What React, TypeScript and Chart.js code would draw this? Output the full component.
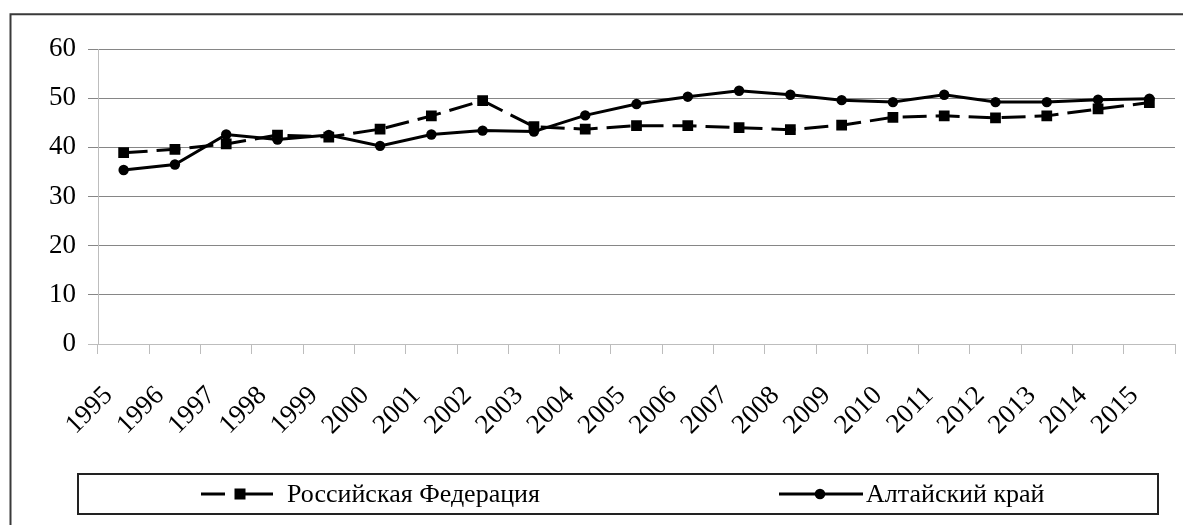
import React, { useEffect, useRef } from "react";
import { Chart, registerables } from "chart.js";

Chart.register(...registerables);

const years = [
  "1995", "1996", "1997", "1998", "1999", "2000", "2001", "2002", "2003", "2004",
  "2005", "2006", "2007", "2008", "2009", "2010", "2011", "2012", "2013", "2014", "2015",
];
const russiaValues = [
  38.9, 39.6, 40.7, 42.5, 42.1, 43.7, 46.4, 49.5, 44.2, 43.7,
  44.4, 44.4, 44.0, 43.6, 44.5, 46.1, 46.4, 46.0, 46.4, 47.8, 49.1,
];
const altaiValues = [
  35.4, 36.5, 42.6, 41.6, 42.5, 40.3, 42.6, 43.4, 43.2, 46.5,
  48.8, 50.3, 51.5, 50.7, 49.6, 49.2, 50.7, 49.2, 49.2, 49.7, 49.9,
];
const seriesNames = ["Российская Федерация", "Алтайский край"];
const yMin = 0;
const yMax = 60;
const yStep = 10;

const FONT = "'Liberation Serif', 'Times New Roman', serif";

const framePlugin = {
  id: "frameAndLegend",
  beforeDraw(chart: any) {
    const ctx = chart.ctx;
    ctx.save();
    ctx.fillStyle = "#ffffff";
    ctx.fillRect(0, 0, chart.width, chart.height);
    ctx.strokeStyle = "#3a3a3a";
    ctx.lineWidth = 2;
    ctx.beginPath();
    ctx.moveTo(10.5, chart.height + 2);
    ctx.lineTo(10.5, 14.3);
    ctx.lineTo(chart.width + 2, 14.3);
    ctx.stroke();
    ctx.restore();
  },
  afterDraw(chart: any) {
    const ctx = chart.ctx;
    ctx.save();
    // legend box
    ctx.strokeStyle = "#222222";
    ctx.lineWidth = 2;
    ctx.strokeRect(78, 474, 1080, 40);
    const cy = 494;
    ctx.font = `26px ${FONT}`;
    ctx.fillStyle = "#000";
    ctx.textBaseline = "middle";
    ctx.textAlign = "left";

    // item 1: dashed line with square
    ctx.strokeStyle = "#000";
    ctx.lineWidth = 3;
    ctx.beginPath();
    ctx.moveTo(201, cy);
    ctx.lineTo(225, cy);
    ctx.moveTo(240, cy);
    ctx.lineTo(273, cy);
    ctx.stroke();
    ctx.fillRect(234.5, cy - 5.5, 11, 11);
    ctx.fillText(chart.data.datasets[0].label, 287, cy + 1);

    // item 2: solid line with circle
    ctx.beginPath();
    ctx.moveTo(779, cy);
    ctx.lineTo(863, cy);
    ctx.stroke();
    ctx.beginPath();
    ctx.arc(820, cy, 5.3, 0, Math.PI * 2);
    ctx.fill();
    ctx.fillText(chart.data.datasets[1].label, 866, cy + 1);
    ctx.restore();
  },
};

export default function App() {
  const canvasRef = useRef<HTMLCanvasElement | null>(null);

  useEffect(() => {
    const canvas = canvasRef.current;
    if (!canvas) return;
    const chart = new Chart(canvas, {
      type: "line",
      data: {
        labels: years,
        datasets: [
          {
            label: seriesNames[0],
            data: russiaValues,
            borderColor: "#000",
            backgroundColor: "#000",
            borderWidth: 3,
            borderDash: [24, 9],
            pointStyle: "rect",
            pointRadius: 7.6,
            pointBorderWidth: 0,
            pointBackgroundColor: "#000",
            tension: 0,
          },
          {
            label: seriesNames[1],
            data: altaiValues,
            borderColor: "#000",
            backgroundColor: "#000",
            borderWidth: 3,
            pointStyle: "circle",
            pointRadius: 5.2,
            pointBorderWidth: 0,
            pointBackgroundColor: "#000",
            tension: 0,
          },
        ],
      },
      options: {
        animation: false,
        responsive: false,
        devicePixelRatio: 1,
        layout: { padding: { left: 0, top: 49, right: 8, bottom: 81 } },
        plugins: {
          legend: { display: false },
          tooltip: { enabled: false },
          title: { display: false },
        },
        scales: {
          x: {
            type: "category",
            offset: true,
            grid: {
              offset: true,
              drawOnChartArea: false,
              drawTicks: true,
              tickLength: 10,
              color: "#bdbdbd",
              lineWidth: 1,
            },
            border: { color: "#bdbdbd", width: 1 },
            ticks: {
              autoSkip: false,
              minRotation: 45,
              maxRotation: 45,
              padding: 26,
              labelOffset: -15,
              color: "#000",
              font: { family: FONT, size: 27 },
            },
            afterFit: (s: any) => {
              s.height = 100;
              s.paddingLeft = 0;
              s.paddingRight = 0;
            },
          },
          y: {
            min: yMin,
            max: yMax,
            ticks: {
              stepSize: yStep,
              padding: 12,
              color: "#000",
              font: { family: FONT, size: 27 },
            },
            grid: {
              color: (c: any) => (c.tick && c.tick.value === 0 ? "#bdbdbd" : "#868686"),
              lineWidth: 1,
              tickLength: 10,
              drawTicks: true,
            },
            border: { color: "#bdbdbd", width: 1 },
            afterFit: (s: any) => {
              s.width = 98;
              s.paddingTop = 0;
              s.paddingBottom = 0;
            },
          },
        },
      },
      plugins: [framePlugin],
    });
    return () => chart.destroy();
  }, []);

  return (
    <div style={{ position: "absolute", left: 0, top: 0, width: 1183, height: 525, background: "#fff" }}>
      <canvas ref={canvasRef} width={1183} height={525} style={{ width: 1183, height: 525, display: "block" }} />
    </div>
  );
}
